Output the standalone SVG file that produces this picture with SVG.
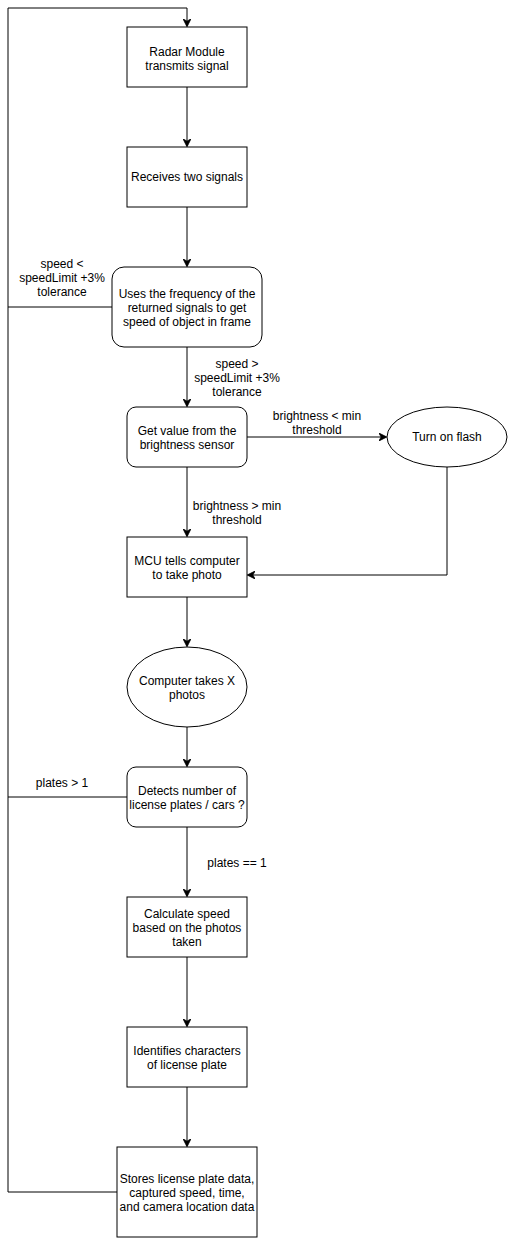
<svg xmlns="http://www.w3.org/2000/svg" width="508" height="1238" viewBox="0 0 508 1238">
<style>
.n{fill:#fff;stroke:#000;stroke-width:1}
.t{font-family:"Liberation Sans",Arial,sans-serif;font-size:12px;fill:#000;text-anchor:middle}
.e{fill:none;stroke:#000;stroke-width:1}
</style>
<defs>
<marker id="a" viewBox="0 0 10 10" refX="9" refY="5" markerWidth="8" markerHeight="8" markerUnits="userSpaceOnUse" orient="auto">
<path d="M0,0 L10,5 L0,10 L3,5 Z" fill="#000" stroke="#000" stroke-width="1"/>
</marker>
</defs>
<rect width="508" height="1238" fill="#fff"/>
<g id="connectors">
<path class="e" d="M187,87 V146" marker-end="url(#a)"/>
<path class="e" d="M187,207 V266" marker-end="url(#a)"/>
<path class="e" d="M187,347 V406" marker-end="url(#a)"/>
<path class="e" d="M247,437 H386" marker-end="url(#a)"/>
<path class="e" d="M187,467 V536" marker-end="url(#a)"/>
<path class="e" d="M447,467 V575 H248" marker-end="url(#a)"/>
<path class="e" d="M187,597 V646" marker-end="url(#a)"/>
<path class="e" d="M187,727 V766" marker-end="url(#a)"/>
<path class="e" d="M187,827 V896" marker-end="url(#a)"/>
<path class="e" d="M187,957 V1026" marker-end="url(#a)"/>
<path class="e" d="M187,1087 V1146" marker-end="url(#a)"/>
<path class="e" d="M117,1192 H8 V8 H187 V26" marker-end="url(#a)"/>
<path class="e" d="M112,307 H8"/>
<path class="e" d="M127,797 H8"/>
<text class="t" x="62" y="268">speed &lt;</text>
<text class="t" x="62" y="282">speedLimit +3%</text>
<text class="t" x="62" y="296">tolerance</text>
<text class="t" x="237" y="368">speed &gt;</text>
<text class="t" x="237" y="382">speedLimit +3%</text>
<text class="t" x="237" y="396">tolerance</text>
<text class="t" x="317" y="420">brightness &lt; min</text>
<text class="t" x="317" y="434">threshold</text>
<text class="t" x="237" y="510">brightness &gt; min</text>
<text class="t" x="237" y="524">threshold</text>
<text class="t" x="62" y="787">plates &gt; 1</text>
<text class="t" x="237" y="867">plates == 1</text>
</g>
<g id="n1"><rect class="n" x="127" y="27" width="120" height="60"/>
<text class="t" x="187" y="56">Radar Module</text><text class="t" x="187" y="70">transmits signal</text></g>
<g id="n2"><rect class="n" x="127" y="147" width="120" height="60"/>
<text class="t" x="187" y="181">Receives two signals</text></g>
<g id="n3"><rect class="n" x="112" y="267" width="150" height="80" rx="12"/>
<text class="t" x="187" y="298">Uses the frequency of the</text><text class="t" x="187" y="312">returned signals to get</text><text class="t" x="187" y="326">speed of object in frame</text></g>
<g id="n4"><rect class="n" x="127" y="407" width="120" height="60" rx="9"/>
<text class="t" x="187" y="435">Get value from the</text><text class="t" x="187" y="449">brightness sensor</text></g>
<g id="n5"><ellipse class="n" cx="447" cy="437" rx="60" ry="30"/>
<text class="t" x="447" y="441">Turn on flash</text></g>
<g id="n6"><rect class="n" x="127" y="537" width="120" height="60"/>
<text class="t" x="187" y="565">MCU tells computer</text><text class="t" x="187" y="579">to take photo</text></g>
<g id="n7"><ellipse class="n" cx="187" cy="687" rx="60" ry="40"/>
<text class="t" x="187" y="685">Computer takes X</text><text class="t" x="187" y="699">photos</text></g>
<g id="n8"><rect class="n" x="127" y="767" width="120" height="60" rx="9"/>
<text class="t" x="187" y="795">Detects number of</text><text class="t" x="187" y="809">license plates / cars ?</text></g>
<g id="n9"><rect class="n" x="127" y="897" width="120" height="60"/>
<text class="t" x="187" y="918">Calculate speed</text><text class="t" x="187" y="932">based on the photos</text><text class="t" x="187" y="946">taken</text></g>
<g id="n10"><rect class="n" x="127" y="1027" width="120" height="60"/>
<text class="t" x="187" y="1055">Identifies characters</text><text class="t" x="187" y="1069">of license plate</text></g>
<g id="n11"><rect class="n" x="117" y="1147" width="140" height="90"/>
<text class="t" x="187" y="1183">Stores license plate data,</text><text class="t" x="187" y="1197">captured speed, time,</text><text class="t" x="187" y="1211">and camera location data</text></g>
</svg>
